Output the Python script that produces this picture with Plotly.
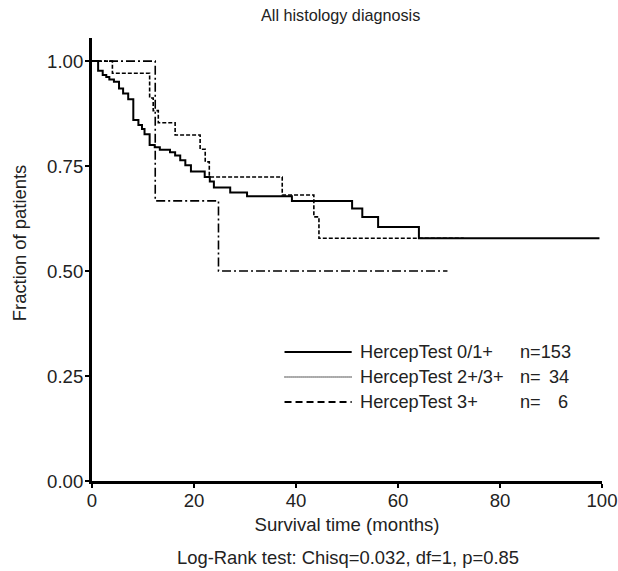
import plotly.graph_objects as go

# Kaplan-Meier step data (time in months, survival fraction)
t_01 = [0, 1.2, 2.1, 2.8, 3.4, 4.3, 5.3, 6.1, 7.1, 8.1, 9.1, 9.8, 10.3, 11.3, 12.3, 13.3,
        15.3, 16.3, 17.3, 18.3, 19.4, 22.1, 23.1, 23.9, 27.1, 30.4, 39.2, 51.0, 53.0,
        56.1, 64.1, 99.5]
s_01 = [1.0, 0.977, 0.967, 0.962, 0.956, 0.951, 0.935, 0.923, 0.909, 0.860, 0.848, 0.838,
        0.826, 0.800, 0.795, 0.789, 0.783, 0.775, 0.764, 0.752, 0.737, 0.724, 0.713, 0.699,
        0.687, 0.678, 0.667, 0.649, 0.629, 0.605, 0.578, 0.578]

t_23 = [0, 4.0, 11.3, 12.0, 13.0, 16.3, 21.2, 22.2, 23.0, 37.3, 43.5, 44.5, 72.9]
s_23 = [1.0, 0.971, 0.912, 0.882, 0.853, 0.824, 0.790, 0.760, 0.724, 0.681, 0.629, 0.578, 0.578]

t_3 = [0, 12.4, 24.8, 69.7]
s_3 = [1.0, 0.667, 0.5, 0.5]

legend_names = ["HercepTest 0/1+", "HercepTest 2+/3+", "HercepTest 3+"]
legend_n = ["153", "34", "6"]

x_ticks = [0, 20, 40, 60, 80, 100]
y_ticks = [0.0, 0.25, 0.5, 0.75, 1.0]
y_tick_text = ["0.00", "0.25", "0.50", "0.75", "1.00"]

FONT = "Liberation Sans, Arial, sans-serif"
TXT = "#222222"

fig = go.Figure()
fig.add_trace(go.Scatter(x=t_01, y=s_01, mode="lines", line_shape="hv", name=legend_names[0],
                         line=dict(color="black", width=2), showlegend=False))
fig.add_trace(go.Scatter(x=t_23, y=s_23, mode="lines", line_shape="hv", name=legend_names[1],
                         line=dict(color="black", width=1.6, dash="4px,2px"), showlegend=False))
fig.add_trace(go.Scatter(x=t_3, y=s_3, mode="lines", line_shape="hv", name=legend_names[2],
                         line=dict(color="black", width=1.6, dash="9px,3px,2px,3px"),
                         showlegend=False))

# hand-drawn legend (styles as drawn in the original legend box)
leg_styles = [dict(color="black", width=2),
              dict(color="#222222", width=1.3, dash="1px,1px"),
              dict(color="black", width=1.8, dash="7px,4px")]
leg_y = [0.2912, 0.2348, 0.1783]
n_right = [0.9386, 0.940, 0.938]
shapes = []
ann = []
LF = dict(size=18.2, color=TXT, family=FONT)
for i, (name, n, st, yy) in enumerate(zip(legend_names, legend_n, leg_styles, leg_y)):
    shapes.append(dict(type="line", xref="paper", yref="paper", x0=0.3775, x1=0.5092,
                       y0=yy, y1=yy, line=st))
    ann.append(dict(text=name, x=0.5210, y=yy, xref="paper", yref="paper", xanchor="left",
                    yanchor="middle", showarrow=False, font=LF))
    if len(n) >= 3:
        ann.append(dict(text="n=" + n, x=0.836, y=yy, xref="paper", yref="paper",
                        xanchor="left", yanchor="middle", showarrow=False, font=LF))
    else:
        ann.append(dict(text="n=", x=0.836, y=yy, xref="paper", yref="paper",
                        xanchor="left", yanchor="middle", showarrow=False, font=LF))
        ann.append(dict(text=n, x=n_right[i], y=yy, xref="paper", yref="paper",
                        xanchor="right", yanchor="middle", showarrow=False, font=LF))

ann += [
    dict(text="All histology diagnosis", x=0.487, y=1.052, xref="paper", yref="paper",
         xanchor="center", yanchor="middle", showarrow=False,
         font=dict(size=16.2, color=TXT, family=FONT)),
    dict(text="Log-Rank test: Chisq=0.032, df=1, p=0.85", x=0.501, y=-0.1738, xref="paper",
         yref="paper", xanchor="center", yanchor="middle", showarrow=False,
         font=dict(size=18.4, color=TXT, family=FONT)),
    dict(text="Fraction of patients", x=-0.143, y=0.537, xref="paper", yref="paper",
         xanchor="center", yanchor="middle", textangle=-90, showarrow=False,
         font=dict(size=18.4, color=TXT, family=FONT)),
]

fig.update_layout(
    width=618, height=571,
    margin=dict(l=92, r=16, t=38, b=90),
    paper_bgcolor="white", plot_bgcolor="white",
    font=dict(family=FONT, color=TXT, size=18),
    showlegend=False,
    hovermode=False,
    annotations=ann,
    shapes=shapes,
    xaxis=dict(range=[0, 100], tickvals=x_ticks, showgrid=False, zeroline=False,
               automargin=False,
               showline=True, linecolor="black", linewidth=3, ticks="outside",
               ticklen=4, tickwidth=2, tickcolor="black", ticklabelstandoff=-3,
               title=dict(text="Survival time (months)", standoff=8,
                          font=dict(size=18.6, color=TXT, family=FONT)),
               tickfont=dict(size=18.6, color=TXT, family=FONT)),
    yaxis=dict(range=[0, 1.055], tickvals=y_ticks, ticktext=y_tick_text, showgrid=False,
               automargin=False,
               zeroline=False, showline=True, linecolor="black", linewidth=3,
               ticks="outside", ticklen=4, tickwidth=2, tickcolor="black",
               ticklabelstandoff=-2,
               tickfont=dict(size=18.6, color=TXT, family=FONT)),
)

# remove the page's default body margin so the 618x571 figure fills the window exactly
fig.write_html("out.html",
               config={"displayModeBar": False},
               post_script="document.body.style.margin='0';document.body.style.overflow='hidden';")
